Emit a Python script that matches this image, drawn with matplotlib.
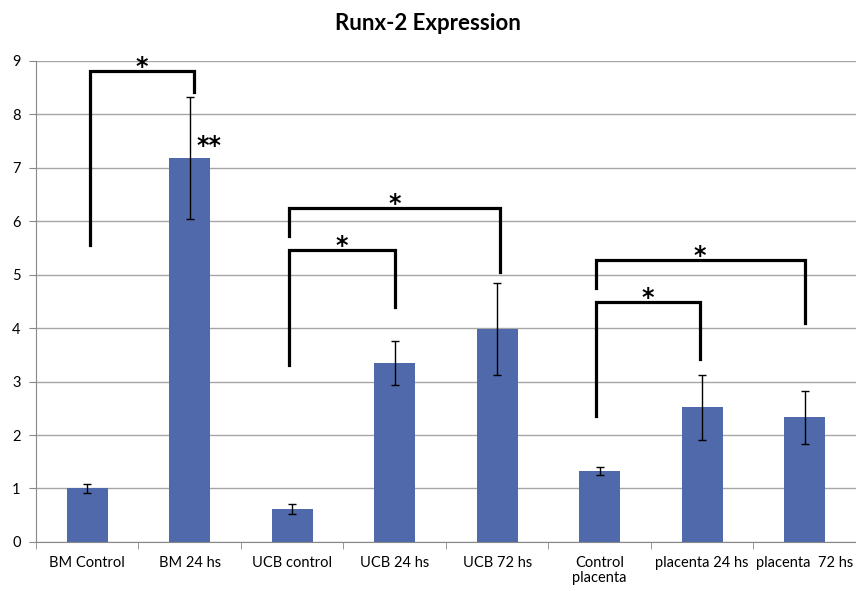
import numpy as np
import matplotlib.pyplot as plt

plt.rcParams['font.family'] = ['Lato', 'DejaVu Sans']

categories = ["BM Control", "BM 24 hs", "UCB control", "UCB 24 hs", "UCB 72 hs",
              "Control\nplacenta", "placenta 24 hs", "placenta  72 hs"]
values = [1.00, 7.18, 0.62, 3.35, 3.98, 1.33, 2.52, 2.33]
errors = [0.09, 1.14, 0.09, 0.41, 0.86, 0.08, 0.61, 0.50]

# brackets: (left x, right x, left foot, top, right foot)
brackets = [
    (0.03, 1.04, 5.56, 8.81, 8.41),
    (1.97, 3.00, 3.31, 5.46, 4.40),
    (1.97, 4.03, 5.73, 6.25, 5.05),
    (4.96, 5.98, 2.36, 4.49, 3.42),
    (4.96, 7.00, 4.76, 5.28, 4.09),
]

fig = plt.figure(figsize=(8.56, 5.91), dpi=100)
ax = fig.add_axes([0.042, 0.083, 0.958, 0.814])

x = np.arange(len(categories))
ax.bar(x, values, width=0.4, color="#4f69ab", zorder=3)
ax.errorbar(x, values, yerr=errors, fmt="none", ecolor="black",
            elinewidth=1, capsize=3, capthick=1, zorder=4)

star_font = dict(family="DejaVu Sans", fontsize=17, fontweight="bold",
                 ha="center", va="baseline", zorder=6)
for xl, xr, yl, yt, yr in brackets:
    ax.plot([xl, xl, xr, xr], [yl, yt, yt, yr], color="black", lw=2.3,
            solid_joinstyle="miter", zorder=5)
    ax.text((xl + xr) / 2, yt - 0.06, "*", **star_font)

ax.text(1.19, 7.27, "**", **star_font)

ax.set_xlim(-0.5, 7.5)
ax.set_ylim(0, 9)
ax.set_yticks(range(10))
ax.set_xticks(x)
ax.set_xticklabels(categories, fontsize=10.5, linespacing=1.15)
ax.set_xticks(np.arange(-0.5, 8, 1), minor=True)
ax.tick_params(axis="x", which="major", length=0, pad=10)
ax.tick_params(axis="x", which="minor", length=5, color="#888888")
ax.tick_params(axis="y", length=5, color="#888888", labelsize=10.5, pad=6)
ax.yaxis.grid(True, color="#a6a6a6", lw=1, zorder=0)

for s in ["top", "right"]:
    ax.spines[s].set_visible(False)
for s in ["left", "bottom"]:
    ax.spines[s].set_color("#888888")

fig.suptitle("Runx-2 Expression", fontsize=16, fontweight="bold", y=0.978)

fig.savefig("out.png", dpi=100)
